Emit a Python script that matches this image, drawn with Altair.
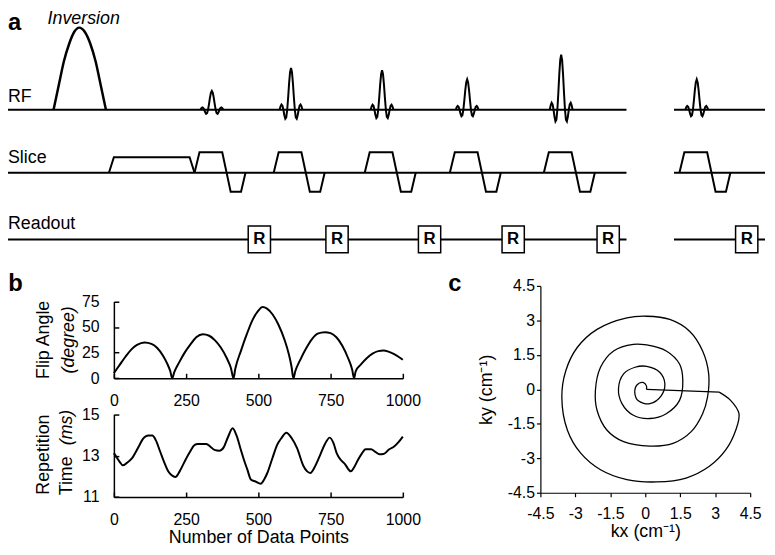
import altair as alt
import pandas as pd

FONT = "Liberation Sans"
W, H = 767, 539

# ---------------- panel a : pulse-sequence diagram (time in arbitrary units) ----------------
base_start = [0.0, 134.6]
base_end = [125.0, 153.0]

inv_t = [9.2, 10.3, 11.3, 12.4, 13.4, 14.4, 15.5, 16.6, 17.7, 18.7, 19.8]
inv_v = [0.0, 0.31, 0.59, 0.81, 0.95, 1.0, 0.95, 0.81, 0.59, 0.31, 0.0]

rf_center = [41.2, 57.2, 75.6, 92.8, 111.8, 139.2]
rf_amp = [0.23, 0.51, 0.48, 0.37, 0.67, 0.37]
sinc_u = [-3.0, -2.75, -2.5, -2.25, -2.0, -1.75, -1.5, -1.25, -1.0, -0.75, -0.5, -0.25, 0.0,
          0.25, 0.5, 0.75, 1.0, 1.25, 1.5, 1.75, 2.0, 2.25, 2.5, 2.75, 3.0]
sinc_v = [0.0, 0.082, 0.127, 0.1, 0.0, -0.129, -0.212, -0.18, 0.0, 0.3, 0.637, 0.9, 1.0,
          0.9, 0.637, 0.3, 0.0, -0.18, -0.212, -0.129, 0.0, 0.1, 0.127, 0.082, 0.0]
sinc_lobe = 0.77

spoil_t = [20.4, 21.4, 36.7, 37.7]
spoil_v = [0.0, 0.76, 0.76, 0.0]
grad_du = [-3.5, -2.5, 2.1, 3.8, 5.9, 6.8]
grad_v = [0.0, 1.0, 1.0, -0.92, -0.92, 0.0]

ro_center = [50.8, 66.5, 85.2, 102.1, 121.3, 149.3]
ro_half = 2.25

# ---------------- panel b ----------------
fa_n = [0, 20, 40, 60, 80, 106, 130, 150, 170, 185, 195, 202,
        209, 225, 245, 265, 285, 308, 330, 350, 370, 390, 405, 414,
        420, 440, 460, 480, 500, 514, 530, 550, 570, 590, 605, 615, 621,
        628, 645, 665, 685, 705, 730, 750, 770, 790, 810, 825, 831,
        837, 855, 875, 895, 915, 933, 950, 970, 985, 1000]
fa_deg = [5, 13, 21, 28, 32.5, 35, 33.5, 29.5, 22, 14, 7, 0,
          6, 15, 25, 33, 40, 43, 41.5, 37, 30, 20, 10, 0,
          9, 27, 43, 57, 66, 69.5, 68, 62, 52, 38, 24, 11, 0,
          7, 18, 29, 38, 43.5, 45, 44, 40, 32, 20, 8, 0,
          7, 13.5, 19.5, 24, 26.5, 27, 26, 23.5, 21, 18]

tr_n = [0, 8, 20, 31, 45, 63, 86, 100, 110, 120, 133, 145, 160, 175, 188, 200, 213, 228, 245,
        262, 280, 290, 320, 335, 348, 365, 380, 395, 411, 425, 439, 450, 462, 474, 490, 508,
        520, 531, 548, 565, 580, 597, 615, 634, 656, 668, 680, 695, 713, 730, 747, 760, 771,
        785, 799, 820, 832, 845, 858, 871, 890, 905, 919, 933, 953, 970, 985, 1000]
tr_ms = [13.12, 12.95, 12.7, 12.53, 12.65, 12.88, 13.44, 13.8, 13.93, 13.97, 13.97, 13.75,
         13.2, 12.65, 12.24, 12.05, 11.97, 12.25, 12.72, 13.15, 13.52, 13.56, 13.56, 13.42,
         13.28, 13.24, 13.4, 13.9, 14.32, 13.95, 13.3, 12.8, 12.32, 11.85, 11.75, 11.64,
         11.85, 12.16, 12.85, 13.52, 13.85, 14.11, 13.85, 13.36, 12.5, 12.25, 12.16, 12.45,
         13.0, 13.55, 13.87, 13.6, 13.12, 12.8, 12.6, 12.24, 12.45, 12.8, 13.1, 13.31, 13.31,
         13.18, 13.07, 13.08, 13.31, 13.44, 13.65, 13.92]

b_xticks = [0, 250, 500, 750, 1000]
fa_ticks = [0, 25, 50, 75]
tr_ticks = [11, 13, 15]

# ---------------- panel c ----------------
sp_kx = [3.17, 3.66, 4.02, 3.88, 3.45, 2.75, 1.75, 0.48, -0.79, -1.92, -2.77, -3.34, -3.58,
         -3.41, -2.92, -2.07, -0.79, 0.06, 1.05, 1.9, 2.46, 2.72, 2.67, 2.46, 1.97, 1.19, 0.2,
         -0.93, -1.64, -2.07, -2.14, -1.92, -1.36, -0.51, 0.06, 0.9, 1.47, 1.61, 1.47, 0.9, 0.2,
         -0.51, -1.0, -1.15, -0.93, -0.44, 0.06, 0.62, 0.84, 0.69, 0.2, -0.3, -0.45, -0.35, -0.1,
         0.05, 0.05]
sp_ky = [-0.12, -0.48, -1.06, -1.78, -2.64, -3.35, -3.86, -4.03, -3.93, -3.5, -2.78, -1.78,
         -0.34, 0.81, 1.82, 2.61, 3.11, 3.18, 3.04, 2.53, 1.67, 0.67, -0.34, -1.06, -1.84, -2.35,
         -2.47, -2.28, -1.78, -0.91, -0.05, 0.96, 1.67, 1.96, 1.93, 1.67, 1.1, 0.38, -0.48, -1.06,
         -1.27, -1.13, -0.62, 0.02, 0.67, 0.96, 1.0, 0.74, 0.24, -0.27, -0.62, -0.5, -0.15, 0.2,
         0.3, 0.15, 0.0]
rew_kx = [0.05, 3.17]
rew_ky = [0.0, -0.12]
c_ticks = [-4.5, -3, -1.5, 0, 1.5, 3, 4.5]

# ---------------- text labels (in each panel's own data units) ----------------
a_letter = ("a", 0.0, 1.2)
inv_label = ("Inversion", 15.3, 1.1)
rf_label = ("RF", 0.0, 0.157)
slice_label = ("Slice", 0.0, 0.71)
readout_label = ("Readout", 0.0, 1.185)
b_letter = ("b", -366, 92)
fa_title = [("Flip Angle", -240, 37.5)]
fa_title_it = [("(degree)", -154, 37.5)]
tr_title = [("Repetition", -240, 13.05), ("Time", -161, 12.02)]
tr_title_it = [("(ms)", -161, 14.36)]
c_letter = ("c", -8.45, 4.59)


def sc(domain, rng):
    return alt.Scale(domain=domain, range=rng, zero=False, nice=False)


XA = sc([0, 153.4], [0, 767])
Y_RF = sc([0, 1], [100, 17])
Y_SL = sc([0, 1], [163.7, 143])
Y_RO = sc([-1, 1], [244.5, 217.5])
XB = sc([0, 1000], [107, 399])
YB1 = sc([0, 75], [371.3, 293.7])
YB2 = sc([11, 15], [491.3, 407.7])
XC = sc([-4.5, 4.5], [538, 750])
YC = sc([-4.5, 4.5], [487, 278])


def axis(orient, offset, values, **kw):
    base = dict(orient=orient, offset=offset, values=values, grid=False,
                domainColor="black", tickColor="black", labelColor="black",
                labelFont=FONT, labelFontSize=16, labelFlush=False, labelOverlap=False,
                titleFont=FONT, titleFontSize=18, titleColor="black",
                titleFontWeight="normal")
    base.update(kw)
    return alt.Axis(**base)


def lines(df, xs, ys, **kw):
    return alt.Chart(df).mark_line(color="black", **kw).encode(
        x=alt.X("x:Q", scale=xs, axis=None),
        y=alt.Y("y:Q", scale=ys, axis=None),
        detail="s:N", order="o:Q")


def txt(items, xs, ys, **kw):
    df = pd.DataFrame({"label": [i[0] for i in items],
                       "x": [i[1] for i in items],
                       "y": [i[2] for i in items]})
    return alt.Chart(df).mark_text(font=FONT, color="black", **kw).encode(
        x=alt.X("x:Q", scale=xs, axis=None),
        y=alt.Y("y:Q", scale=ys, axis=None),
        text="label:N")


def baseline_rows(prefix):
    rows = []
    for i, (a, b) in enumerate(zip(base_start, base_end)):
        rows += [dict(s=f"{prefix}{i}", o=0, x=a, y=0.0), dict(s=f"{prefix}{i}", o=1, x=b, y=0.0)]
    return rows


# RF row
rf_rows = baseline_rows("b")
for k, (c, a) in enumerate(zip(rf_center, rf_amp)):
    for j, (u, v) in enumerate(zip(sinc_u, sinc_v)):
        rf_rows.append(dict(s=f"p{k}", o=j, x=c + u * sinc_lobe, y=a * v))
df_rf = pd.DataFrame(rf_rows)
df_inv = pd.DataFrame({"s": "inv", "o": range(len(inv_t)), "x": inv_t, "y": inv_v})

# Slice row
sl_rows = baseline_rows("b")
for j, (t, v) in enumerate(zip(spoil_t, spoil_v)):
    sl_rows.append(dict(s="sp", o=j, x=t, y=v))
for k, c in enumerate(rf_center):
    for j, (u, v) in enumerate(zip(grad_du, grad_v)):
        sl_rows.append(dict(s=f"g{k}", o=j, x=c + u, y=v))
df_sl = pd.DataFrame(sl_rows)

# Readout row
df_ro = pd.DataFrame(baseline_rows("b"))
df_box = pd.DataFrame({"x1": [c - ro_half for c in ro_center],
                       "x2": [c + ro_half for c in ro_center],
                       "y1": -1.0, "y2": 1.0, "xc": ro_center, "yc": 0.0, "label": "R"})

layers = [
    lines(df_rf, XA, Y_RF, strokeWidth=2),
    lines(df_inv, XA, Y_RF, strokeWidth=2.5, interpolate="monotone"),
    lines(df_sl, XA, Y_SL, strokeWidth=2),
    lines(df_ro, XA, Y_RO, strokeWidth=2),
    alt.Chart(df_box).mark_rect(fill="white", stroke="black", strokeWidth=1.5).encode(
        x=alt.X("x1:Q", scale=XA, axis=None), x2="x2:Q",
        y=alt.Y("y1:Q", scale=Y_RO, axis=None), y2="y2:Q"),
    alt.Chart(df_box).mark_text(font=FONT, fontSize=17, fontWeight="bold", color="black",
                                baseline="middle").encode(
        x=alt.X("xc:Q", scale=XA, axis=None), y=alt.Y("yc:Q", scale=Y_RO, axis=None),
        text="label:N"),
    txt([a_letter], XA, Y_RF, fontSize=24, fontWeight="bold", align="left", baseline="top"),
    txt([inv_label], XA, Y_RF, fontSize=18, fontStyle="italic", align="center", baseline="middle"),
    txt([rf_label], XA, Y_RF, fontSize=18, align="left", baseline="middle"),
    txt([slice_label], XA, Y_SL, fontSize=18, align="left", baseline="middle"),
    txt([readout_label], XA, Y_RO, fontSize=18, align="left", baseline="middle"),
]

# panel b1 : flip angle (main axes carry labels; extra axes give inward ticks)
df_fa = pd.DataFrame({"n": fa_n, "v": fa_deg})
layers.append(alt.Chart(df_fa).mark_line(color="black", strokeWidth=2, interpolate="monotone").encode(
    x=alt.X("n:Q", scale=XB, title=None,
            axis=axis("bottom", 371.3 - H, b_xticks, ticks=False, labelPadding=14.5, domainWidth=1.5,
                      format="d")),
    y=alt.Y("v:Q", scale=YB1, title=None,
            axis=axis("left", -107, fa_ticks, ticks=False, labelPadding=15, domainWidth=1.5,
                      format="d"))))
layers.append(alt.Chart(df_fa).mark_point(opacity=0).encode(
    x=alt.X("n:Q", scale=XB, title=None,
            axis=axis("top", -371.3, b_xticks, labels=False, domain=False, tickSize=5, tickWidth=1.5)),
    y=alt.Y("v:Q", scale=YB1, title=None,
            axis=axis("right", 107 - W, fa_ticks, labels=False, domain=False, tickSize=5, tickWidth=1.5))))

# panel b2 : repetition time
df_tr = pd.DataFrame({"n": tr_n, "v": tr_ms})
layers.append(alt.Chart(df_tr).mark_line(color="black", strokeWidth=2, interpolate="monotone").encode(
    x=alt.X("n:Q", scale=XB, title="Number of Data Points",
            axis=axis("bottom", 491.3 - H, b_xticks, ticks=False, labelPadding=14.5, domainWidth=1.5,
                      titlePadding=2, format="d")),
    y=alt.Y("v:Q", scale=YB2, title=None,
            axis=axis("left", -107, tr_ticks, ticks=False, labelPadding=15, domainWidth=1.5,
                      format="d"))))
layers.append(alt.Chart(df_tr).mark_point(opacity=0).encode(
    x=alt.X("n:Q", scale=XB, title=None,
            axis=axis("top", -491.3, b_xticks, labels=False, domain=False, tickSize=5, tickWidth=1.5)),
    y=alt.Y("v:Q", scale=YB2, title=None,
            axis=axis("right", 107 - W, tr_ticks, labels=False, domain=False, tickSize=5, tickWidth=1.5))))

layers += [
    txt([b_letter], XB, YB1, fontSize=24, fontWeight="bold", align="left", baseline="middle"),
    txt(fa_title, XB, YB1, fontSize=18, angle=270, align="center", baseline="middle"),
    txt(fa_title_it, XB, YB1, fontSize=18, fontStyle="italic", angle=270, align="center", baseline="middle"),
    txt(tr_title, XB, YB2, fontSize=18, angle=270, align="center", baseline="middle"),
    txt(tr_title_it, XB, YB2, fontSize=18, fontStyle="italic", angle=270, align="center", baseline="middle"),
]

# panel c : spiral k-space trajectory
df_sp = pd.DataFrame({"kx": sp_kx, "ky": sp_ky, "i": range(len(sp_kx))})
df_rew = pd.DataFrame({"kx": rew_kx, "ky": rew_ky, "i": range(len(rew_kx))})
lab = "'' + datum.value"
layers.append(alt.Chart(df_sp).mark_line(color="black", strokeWidth=1.3, interpolate="catmull-rom").encode(
    x=alt.X("kx:Q", scale=XC, title="kx (cm⁻¹)",
            axis=axis("bottom", 487 - H, c_ticks, tickSize=4, tickWidth=1.2, domainWidth=1.2,
                      labelPadding=9, labelExpr=lab, titlePadding=1)),
    y=alt.Y("ky:Q", scale=YC, title="ky (cm⁻¹)",
            axis=axis("left", -538, c_ticks, tickSize=4, tickWidth=1.2, domainWidth=1.2,
                      labelPadding=2, labelExpr=lab, titlePadding=12)),
    order="i:Q"))
layers.append(alt.Chart(df_rew).mark_line(color="black", strokeWidth=1.3).encode(
    x=alt.X("kx:Q", scale=XC, axis=None), y=alt.Y("ky:Q", scale=YC, axis=None), order="i:Q"))
layers.append(txt([c_letter], XC, YC, fontSize=24, fontWeight="bold", align="left", baseline="middle"))

chart = alt.layer(*layers).resolve_scale(x="independent", y="independent").properties(
    width=W, height=H, padding=0, autosize=alt.AutoSizeParams(type="none")
).configure(font=FONT).configure_view(stroke=None)

chart.save("out.html", embed_options={"renderer": "svg", "actions": False})
